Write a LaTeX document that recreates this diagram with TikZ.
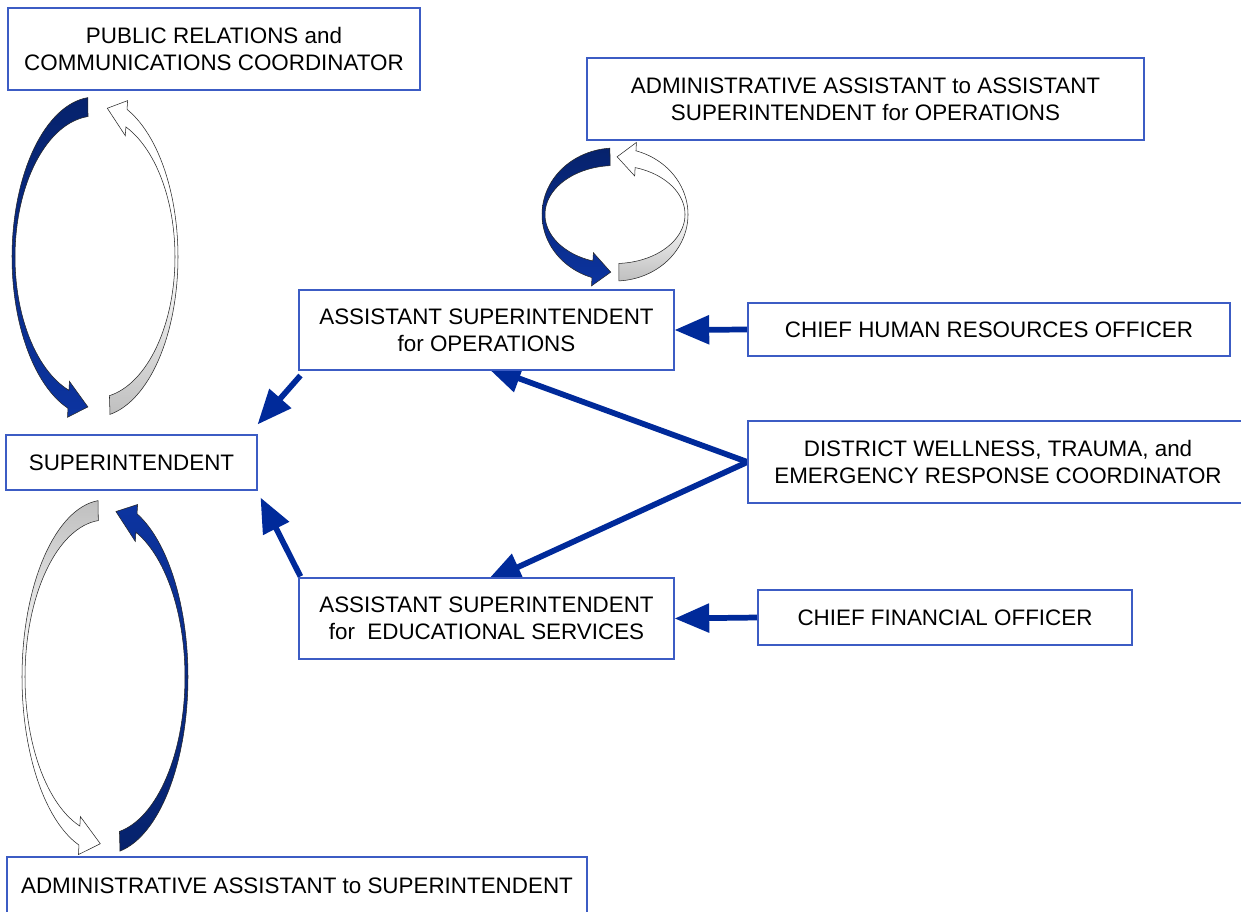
\documentclass[tikz,border=0pt]{standalone}
\usepackage{fontspec}
\setmainfont{Liberation Sans}
\usetikzlibrary{arrows.meta,calc,backgrounds}
\definecolor{boxblue}{RGB}{60,92,196}
\definecolor{arrowblue}{RGB}{0,42,154}
\definecolor{navyD}{RGB}{6,34,108}
\definecolor{navyL}{RGB}{12,52,160}
\newcommand{\fs}{\fontsize{16.8}{20.3}\selectfont}
\def\rdelta{14}
% center x, center y, outer rx, outer ry, inner rx, inner ry, start angle, end angle, style
\newcommand{\ringarrow}[9]{%
  \path[#9] plot[domain=#7:#8,samples=60] ({#1+#3*cos(\x)},{#2-#4*sin(\x)})
    -- ({#1+(#3+(#3-#5)/2)*cos(#8)},{#2-(#4+(#4-#6)/2)*sin(#8)})
    -- ({#1+((#3+#5)/2)*cos(#8+\rdelta)},{#2-((#4+#6)/2)*sin(#8+\rdelta)})
    -- ({#1+(#5-(#3-#5)/2)*cos(#8)},{#2-(#6-(#4-#6)/2)*sin(#8)})
    -- plot[domain=#8:#7,samples=60] ({#1+#5*cos(\x)},{#2-#6*sin(\x)})
    -- cycle;}
\tikzset{
  box/.style={draw=boxblue, line width=0.8pt, fill=white, align=center, inner sep=0pt, font=\fs},
  arr/.style={draw=arrowblue, line width=4.3pt, -{Triangle[length=26pt,width=21pt]}},
  darkdown/.style={draw=black!85, line width=0.4pt, top color=navyD, bottom color=navyL},
  darkup/.style={draw=black!85, line width=0.4pt, top color=navyL, bottom color=navyD},
  graybottom/.style={draw=black!85, line width=0.4pt, top color=white, bottom color=black!25, middle color=white},
  graytop/.style={draw=black!85, line width=0.4pt, top color=black!25, bottom color=white, middle color=white},
}
\begin{document}
\begin{tikzpicture}[x=0.75pt,y=-0.75pt]
\useasboundingbox (0,0) rectangle (1241,911);
\clip (0,0) rectangle (1241,911);

% boxes
\node[box, minimum width=412*0.75pt, minimum height=82*0.75pt] (pr) at (214,49)
  {PUBLIC RELATIONS and\\COMMUNICATIONS COORDINATOR};
\node[box, minimum width=557*0.75pt, minimum height=82*0.75pt] (aaops) at (865.5,99)
  {ADMINISTRATIVE ASSISTANT to ASSISTANT\\SUPERINTENDENT for OPERATIONS};
\node[box, minimum width=375*0.75pt, minimum height=80*0.75pt] (aso) at (486.5,330)
  {ASSISTANT SUPERINTENDENT\\for OPERATIONS};
\node[box, minimum width=482*0.75pt, minimum height=53*0.75pt] (chro) at (989,329.5)
  {CHIEF HUMAN RESOURCES OFFICER};
\node[box, minimum width=251*0.75pt, minimum height=55*0.75pt] (supt) at (131.5,462.5)
  {SUPERINTENDENT};
\node[box, minimum width=500*0.75pt, minimum height=82*0.75pt] (dw) at (998,462)
  {DISTRICT WELLNESS, TRAUMA, and\\EMERGENCY RESPONSE COORDINATOR};
\node[box, minimum width=375*0.75pt, minimum height=81*0.75pt] (ase) at (486.5,618.5)
  {ASSISTANT SUPERINTENDENT\\for\ \ EDUCATIONAL SERVICES};
\node[box, minimum width=374*0.75pt, minimum height=55*0.75pt] (cfo) at (945,617.5)
  {CHIEF FINANCIAL OFFICER};
\node[box, minimum width=580*0.75pt, minimum height=58*0.75pt] (aas) at (297,886)
  {ADMINISTRATIVE ASSISTANT to SUPERINTENDENT};

% straight connectors (behind the boxes)
\begin{pgfonlayer}{background}
\fill[white] (0,0) rectangle (1241,911);
\draw[arr] (chro.west) -- (aso.east);
\draw[arr] (cfo.west) -- (ase.east);
\draw[arr] ($(aso.south west)+(2,5)$) -- ($(supt.north east)+(0,-10)$);
\draw[arr] ($(ase.north west)+(2,-1)$) -- ($(supt.south east)+(3,7)$);
\draw[arr] (dw.west) -- ($(aso.south)+(0,-4)$);
\draw[arr] (dw.west) -- ($(ase.north)+(0,4)$);
\end{pgfonlayer}

% ring arrows: PR <-> Superintendent
\ringarrow{95}{257}{83}{160}{80}{141}{95}{251}{darkdown}
\ringarrow{95}{257}{83}{160}{80}{141}{-79.6}{67.3}{graybottom}
% ring arrows: Superintendent <-> Admin assistant
\def\rdelta{15}
\ringarrow{105}{677}{83}{177}{80}{157}{94.8}{251.7}{graytop}
\ringarrow{105}{677}{83}{177}{80}{157}{-79.6}{67.3}{darkup}
% ring arrows: Asst supt ops <-> its admin assistant
\ringarrow{615}{214.5}{73}{66.5}{70}{49}{94}{251.6}{darkdown}
\ringarrow{615}{214.5}{73}{66.5}{70}{49}{-86.9}{73.3}{graybottom}
\end{tikzpicture}
\end{document}
